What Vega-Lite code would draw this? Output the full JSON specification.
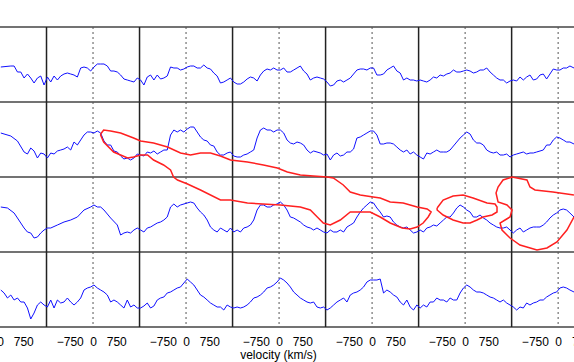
{
  "$schema": "https://vega.github.io/schema/vega-lite/v6.json",
  "width": 600,
  "height": 300,
  "autosize": {"type": "none"},
  "padding": {"left": 0, "top": 27, "right": 0, "bottom": 35},
  "background": "white",
  "config": {"view": {"stroke": null}, "axis": {"labelOverlap": false, "labelBound": false, "labelFlush": false}},
  "datasets": {
    "spec": [
      {"r":0,"x":26,"y":2.60},{"r":0,"x":348,"y":2.61},{"r":0,"x":455,"y":2.61},{"r":0,"x":563,"y":2.55},{"r":0,"x":670,"y":2.55},{"r":0,"x":777,"y":2.49},{"r":0,"x":885,"y":2.53},{"r":0,"x":992,"y":2.49},{"r":0,"x":1099,"y":2.44},{"r":0,"x":1207,"y":2.49},{"r":0,"x":1314,"y":2.51},{"r":0,"x":1421,"y":2.42},{"r":0,"x":1529,"y":2.50},{"r":0,"x":1636,"y":2.45},{"r":0,"x":1743,"y":2.51},{"r":0,"x":1851,"y":2.47},{"r":0,"x":1958,"y":2.51},{"r":0,"x":2065,"y":2.53},{"r":0,"x":2173,"y":2.54},{"r":0,"x":2280,"y":2.53},{"r":0,"x":2387,"y":2.52},{"r":0,"x":2495,"y":2.50},{"r":0,"x":2602,"y":2.59},{"r":0,"x":2709,"y":2.60},{"r":0,"x":2817,"y":2.59},{"r":0,"x":2924,"y":2.56},{"r":0,"x":3031,"y":2.60},{"r":0,"x":3139,"y":2.63},{"r":0,"x":3246,"y":2.63},{"r":0,"x":3353,"y":2.63},{"r":0,"x":3461,"y":2.61},{"r":0,"x":3568,"y":2.56},{"r":0,"x":3675,"y":2.56},{"r":0,"x":3783,"y":2.55},{"r":0,"x":3890,"y":2.52},{"r":0,"x":3997,"y":2.48},{"r":0,"x":4105,"y":2.47},{"r":0,"x":4212,"y":2.46},{"r":0,"x":4319,"y":2.45},{"r":0,"x":4427,"y":2.49},{"r":0,"x":4534,"y":2.47},{"r":0,"x":4641,"y":2.42},{"r":0,"x":4749,"y":2.50},{"r":0,"x":4856,"y":2.52},{"r":0,"x":4963,"y":2.47},{"r":0,"x":5071,"y":2.52},{"r":0,"x":5178,"y":2.48},{"r":0,"x":5285,"y":2.49},{"r":0,"x":5393,"y":2.51},{"r":0,"x":5500,"y":2.60},{"r":0,"x":5607,"y":2.59},{"r":0,"x":5715,"y":2.59},{"r":0,"x":5822,"y":2.57},{"r":0,"x":5929,"y":2.58},{"r":0,"x":6037,"y":2.60},{"r":0,"x":6144,"y":2.61},{"r":0,"x":6251,"y":2.61},{"r":0,"x":6359,"y":2.59},{"r":0,"x":6466,"y":2.59},{"r":0,"x":6573,"y":2.62},{"r":0,"x":6681,"y":2.59},{"r":0,"x":6788,"y":2.58},{"r":0,"x":6895,"y":2.54},{"r":0,"x":7003,"y":2.51},{"r":0,"x":7110,"y":2.44},{"r":0,"x":7217,"y":2.45},{"r":0,"x":7325,"y":2.47},{"r":0,"x":7432,"y":2.49},{"r":0,"x":7539,"y":2.45},{"r":0,"x":7647,"y":2.43},{"r":0,"x":7754,"y":2.43},{"r":0,"x":7861,"y":2.45},{"r":0,"x":7969,"y":2.48},{"r":0,"x":8076,"y":2.50},{"r":0,"x":8183,"y":2.49},{"r":0,"x":8291,"y":2.46},{"r":0,"x":8398,"y":2.52},{"r":0,"x":8505,"y":2.56},{"r":0,"x":8613,"y":2.58},{"r":0,"x":8720,"y":2.57},{"r":0,"x":8827,"y":2.59},{"r":0,"x":8935,"y":2.57},{"r":0,"x":9042,"y":2.57},{"r":0,"x":9149,"y":2.59},{"r":0,"x":9257,"y":2.55},{"r":0,"x":9364,"y":2.55},{"r":0,"x":9471,"y":2.57},{"r":0,"x":9579,"y":2.59},{"r":0,"x":9686,"y":2.61},{"r":0,"x":9793,"y":2.56},{"r":0,"x":9901,"y":2.53},{"r":0,"x":10008,"y":2.47},{"r":0,"x":10115,"y":2.49},{"r":0,"x":10223,"y":2.50},{"r":0,"x":10330,"y":2.49},{"r":0,"x":10437,"y":2.48},{"r":0,"x":10545,"y":2.45},{"r":0,"x":10652,"y":2.41},{"r":0,"x":10759,"y":2.42},{"r":0,"x":10867,"y":2.46},{"r":0,"x":10974,"y":2.47},{"r":0,"x":11081,"y":2.45},{"r":0,"x":11189,"y":2.47},{"r":0,"x":11296,"y":2.49},{"r":0,"x":11403,"y":2.53},{"r":0,"x":11511,"y":2.57},{"r":0,"x":11618,"y":2.58},{"r":0,"x":11725,"y":2.58},{"r":0,"x":11833,"y":2.57},{"r":0,"x":11940,"y":2.59},{"r":0,"x":12047,"y":2.59},{"r":0,"x":12155,"y":2.52},{"r":0,"x":12262,"y":2.52},{"r":0,"x":12369,"y":2.53},{"r":0,"x":12477,"y":2.57},{"r":0,"x":12584,"y":2.59},{"r":0,"x":12691,"y":2.61},{"r":0,"x":12799,"y":2.56},{"r":0,"x":12906,"y":2.54},{"r":0,"x":13013,"y":2.47},{"r":0,"x":13121,"y":2.49},{"r":0,"x":13228,"y":2.47},{"r":0,"x":13335,"y":2.47},{"r":0,"x":13443,"y":2.46},{"r":0,"x":13550,"y":2.47},{"r":0,"x":13657,"y":2.46},{"r":0,"x":13765,"y":2.45},{"r":0,"x":13872,"y":2.47},{"r":0,"x":13979,"y":2.50},{"r":0,"x":14087,"y":2.49},{"r":0,"x":14194,"y":2.52},{"r":0,"x":14301,"y":2.51},{"r":0,"x":14409,"y":2.53},{"r":0,"x":14516,"y":2.54},{"r":0,"x":14623,"y":2.57},{"r":0,"x":14731,"y":2.55},{"r":0,"x":14838,"y":2.55},{"r":0,"x":14945,"y":2.56},{"r":0,"x":15053,"y":2.57},{"r":0,"x":15160,"y":2.56},{"r":0,"x":15267,"y":2.54},{"r":0,"x":15375,"y":2.55},{"r":0,"x":15482,"y":2.57},{"r":0,"x":15589,"y":2.57},{"r":0,"x":15697,"y":2.59},{"r":0,"x":15804,"y":2.55},{"r":0,"x":15911,"y":2.52},{"r":0,"x":16019,"y":2.49},{"r":0,"x":16126,"y":2.47},{"r":0,"x":16233,"y":2.47},{"r":0,"x":16341,"y":2.44},{"r":0,"x":16448,"y":2.46},{"r":0,"x":16555,"y":2.47},{"r":0,"x":16663,"y":2.46},{"r":0,"x":16770,"y":2.50},{"r":0,"x":16877,"y":2.47},{"r":0,"x":16985,"y":2.50},{"r":0,"x":17092,"y":2.52},{"r":0,"x":17199,"y":2.47},{"r":0,"x":17307,"y":2.48},{"r":0,"x":17414,"y":2.52},{"r":0,"x":17521,"y":2.53},{"r":0,"x":17629,"y":2.48},{"r":0,"x":17736,"y":2.53},{"r":0,"x":17843,"y":2.58},{"r":0,"x":17951,"y":2.57},{"r":0,"x":18058,"y":2.57},{"r":0,"x":18165,"y":2.59},{"r":0,"x":18273,"y":2.59},{"r":0,"x":18380,"y":2.61},{"r":0,"x":18512,"y":2.59},

      {"r":1,"x":26,"y":1.94},{"r":1,"x":348,"y":1.91},{"r":1,"x":563,"y":1.86},{"r":1,"x":777,"y":1.75},{"r":1,"x":885,"y":1.73},{"r":1,"x":992,"y":1.79},{"r":1,"x":1099,"y":1.76},{"r":1,"x":1207,"y":1.69},{"r":1,"x":1314,"y":1.74},{"r":1,"x":1421,"y":1.73},{"r":1,"x":1529,"y":1.69},{"r":1,"x":1636,"y":1.74},{"r":1,"x":1743,"y":1.73},{"r":1,"x":1851,"y":1.76},{"r":1,"x":1958,"y":1.77},{"r":1,"x":2065,"y":1.78},{"r":1,"x":2173,"y":1.80},{"r":1,"x":2280,"y":1.77},{"r":1,"x":2387,"y":1.85},{"r":1,"x":2495,"y":1.82},{"r":1,"x":2602,"y":1.87},{"r":1,"x":2709,"y":1.92},{"r":1,"x":2817,"y":1.95},{"r":1,"x":2924,"y":1.95},{"r":1,"x":3031,"y":1.94},{"r":1,"x":3139,"y":1.96},{"r":1,"x":3246,"y":1.94},{"r":1,"x":3353,"y":1.86},{"r":1,"x":3461,"y":1.82},{"r":1,"x":3568,"y":1.82},{"r":1,"x":3675,"y":1.76},{"r":1,"x":3783,"y":1.75},{"r":1,"x":3890,"y":1.71},{"r":1,"x":3997,"y":1.68},{"r":1,"x":4105,"y":1.69},{"r":1,"x":4212,"y":1.67},{"r":1,"x":4319,"y":1.69},{"r":1,"x":4427,"y":1.73},{"r":1,"x":4534,"y":1.72},{"r":1,"x":4641,"y":1.71},{"r":1,"x":4749,"y":1.75},{"r":1,"x":4856,"y":1.74},{"r":1,"x":4963,"y":1.76},{"r":1,"x":5071,"y":1.73},{"r":1,"x":5178,"y":1.75},{"r":1,"x":5285,"y":1.77},{"r":1,"x":5393,"y":1.77},{"r":1,"x":5500,"y":1.92},{"r":1,"x":5607,"y":1.97},{"r":1,"x":5715,"y":1.95},{"r":1,"x":5822,"y":1.97},{"r":1,"x":5929,"y":1.95},{"r":1,"x":6037,"y":1.98},{"r":1,"x":6144,"y":2.00},{"r":1,"x":6251,"y":2.00},{"r":1,"x":6359,"y":1.95},{"r":1,"x":6466,"y":1.90},{"r":1,"x":6573,"y":1.87},{"r":1,"x":6681,"y":1.86},{"r":1,"x":6788,"y":1.82},{"r":1,"x":6895,"y":1.81},{"r":1,"x":7003,"y":1.75},{"r":1,"x":7110,"y":1.72},{"r":1,"x":7217,"y":1.72},{"r":1,"x":7325,"y":1.74},{"r":1,"x":7432,"y":1.75},{"r":1,"x":7539,"y":1.71},{"r":1,"x":7647,"y":1.70},{"r":1,"x":7754,"y":1.70},{"r":1,"x":7861,"y":1.72},{"r":1,"x":7969,"y":1.73},{"r":1,"x":8076,"y":1.75},{"r":1,"x":8183,"y":1.77},{"r":1,"x":8291,"y":1.89},{"r":1,"x":8398,"y":1.97},{"r":1,"x":8505,"y":1.99},{"r":1,"x":8613,"y":1.97},{"r":1,"x":8720,"y":1.97},{"r":1,"x":8827,"y":1.95},{"r":1,"x":8935,"y":1.97},{"r":1,"x":9042,"y":1.97},{"r":1,"x":9149,"y":1.94},{"r":1,"x":9257,"y":1.87},{"r":1,"x":9364,"y":1.84},{"r":1,"x":9471,"y":1.83},{"r":1,"x":9579,"y":1.85},{"r":1,"x":9686,"y":1.84},{"r":1,"x":9793,"y":1.82},{"r":1,"x":9901,"y":1.77},{"r":1,"x":10008,"y":1.74},{"r":1,"x":10115,"y":1.76},{"r":1,"x":10223,"y":1.75},{"r":1,"x":10330,"y":1.74},{"r":1,"x":10437,"y":1.72},{"r":1,"x":10545,"y":1.73},{"r":1,"x":10652,"y":1.67},{"r":1,"x":10759,"y":1.72},{"r":1,"x":10867,"y":1.74},{"r":1,"x":10974,"y":1.71},{"r":1,"x":11081,"y":1.72},{"r":1,"x":11189,"y":1.75},{"r":1,"x":11296,"y":1.75},{"r":1,"x":11403,"y":1.78},{"r":1,"x":11511,"y":1.89},{"r":1,"x":11618,"y":1.90},{"r":1,"x":11725,"y":1.92},{"r":1,"x":11833,"y":1.94},{"r":1,"x":11940,"y":1.96},{"r":1,"x":12047,"y":1.96},{"r":1,"x":12155,"y":1.92},{"r":1,"x":12262,"y":1.83},{"r":1,"x":12369,"y":1.83},{"r":1,"x":12477,"y":1.84},{"r":1,"x":12584,"y":1.84},{"r":1,"x":12691,"y":1.83},{"r":1,"x":12799,"y":1.80},{"r":1,"x":12906,"y":1.77},{"r":1,"x":13013,"y":1.75},{"r":1,"x":13121,"y":1.77},{"r":1,"x":13228,"y":1.73},{"r":1,"x":13335,"y":1.75},{"r":1,"x":13443,"y":1.72},{"r":1,"x":13550,"y":1.70},{"r":1,"x":13657,"y":1.68},{"r":1,"x":13765,"y":1.74},{"r":1,"x":13872,"y":1.73},{"r":1,"x":13979,"y":1.75},{"r":1,"x":14087,"y":1.77},{"r":1,"x":14194,"y":1.75},{"r":1,"x":14301,"y":1.75},{"r":1,"x":14409,"y":1.75},{"r":1,"x":14516,"y":1.77},{"r":1,"x":14623,"y":1.81},{"r":1,"x":14731,"y":1.85},{"r":1,"x":14838,"y":1.89},{"r":1,"x":14945,"y":1.92},{"r":1,"x":15053,"y":1.95},{"r":1,"x":15160,"y":1.93},{"r":1,"x":15267,"y":1.87},{"r":1,"x":15375,"y":1.84},{"r":1,"x":15482,"y":1.84},{"r":1,"x":15589,"y":1.82},{"r":1,"x":15697,"y":1.77},{"r":1,"x":15804,"y":1.75},{"r":1,"x":15911,"y":1.74},{"r":1,"x":16019,"y":1.75},{"r":1,"x":16126,"y":1.72},{"r":1,"x":16233,"y":1.72},{"r":1,"x":16341,"y":1.73},{"r":1,"x":16448,"y":1.70},{"r":1,"x":16555,"y":1.72},{"r":1,"x":16663,"y":1.73},{"r":1,"x":16770,"y":1.74},{"r":1,"x":16877,"y":1.75},{"r":1,"x":16985,"y":1.73},{"r":1,"x":17092,"y":1.74},{"r":1,"x":17199,"y":1.74},{"r":1,"x":17307,"y":1.75},{"r":1,"x":17414,"y":1.76},{"r":1,"x":17521,"y":1.77},{"r":1,"x":17629,"y":1.82},{"r":1,"x":17736,"y":1.82},{"r":1,"x":17843,"y":1.87},{"r":1,"x":17951,"y":1.90},{"r":1,"x":18058,"y":1.89},{"r":1,"x":18165,"y":1.87},{"r":1,"x":18273,"y":1.85},{"r":1,"x":18380,"y":1.85},{"r":1,"x":18512,"y":1.83},

      {"r":2,"x":26,"y":1.20},{"r":2,"x":241,"y":1.19},{"r":2,"x":455,"y":1.14},{"r":2,"x":563,"y":1.09},{"r":2,"x":670,"y":1.04},{"r":2,"x":777,"y":0.99},{"r":2,"x":885,"y":0.95},{"r":2,"x":992,"y":0.94},{"r":2,"x":1099,"y":0.89},{"r":2,"x":1207,"y":0.90},{"r":2,"x":1314,"y":0.94},{"r":2,"x":1421,"y":0.97},{"r":2,"x":1529,"y":0.99},{"r":2,"x":1636,"y":0.99},{"r":2,"x":1851,"y":1.02},{"r":2,"x":2065,"y":1.05},{"r":2,"x":2280,"y":1.07},{"r":2,"x":2495,"y":1.10},{"r":2,"x":2709,"y":1.17},{"r":2,"x":2924,"y":1.20},{"r":2,"x":3031,"y":1.22},{"r":2,"x":3139,"y":1.20},{"r":2,"x":3246,"y":1.20},{"r":2,"x":3353,"y":1.17},{"r":2,"x":3568,"y":1.09},{"r":2,"x":3783,"y":1.02},{"r":2,"x":3890,"y":0.92},{"r":2,"x":3997,"y":0.94},{"r":2,"x":4105,"y":0.95},{"r":2,"x":4212,"y":0.94},{"r":2,"x":4319,"y":0.97},{"r":2,"x":4427,"y":0.99},{"r":2,"x":4534,"y":0.97},{"r":2,"x":4641,"y":0.95},{"r":2,"x":4749,"y":0.99},{"r":2,"x":4856,"y":1.00},{"r":2,"x":4963,"y":1.02},{"r":2,"x":5071,"y":1.04},{"r":2,"x":5178,"y":1.05},{"r":2,"x":5285,"y":1.07},{"r":2,"x":5393,"y":1.10},{"r":2,"x":5500,"y":1.20},{"r":2,"x":5607,"y":1.23},{"r":2,"x":5715,"y":1.20},{"r":2,"x":5822,"y":1.22},{"r":2,"x":6037,"y":1.24},{"r":2,"x":6144,"y":1.25},{"r":2,"x":6251,"y":1.24},{"r":2,"x":6359,"y":1.19},{"r":2,"x":6466,"y":1.15},{"r":2,"x":6573,"y":1.12},{"r":2,"x":6681,"y":1.07},{"r":2,"x":6788,"y":1.00},{"r":2,"x":6895,"y":0.97},{"r":2,"x":7003,"y":0.95},{"r":2,"x":7110,"y":0.99},{"r":2,"x":7217,"y":0.97},{"r":2,"x":7325,"y":0.95},{"r":2,"x":7432,"y":0.99},{"r":2,"x":7539,"y":0.95},{"r":2,"x":7647,"y":0.97},{"r":2,"x":7754,"y":0.95},{"r":2,"x":7861,"y":0.99},{"r":2,"x":7969,"y":1.00},{"r":2,"x":8076,"y":1.02},{"r":2,"x":8183,"y":1.07},{"r":2,"x":8291,"y":1.17},{"r":2,"x":8398,"y":1.22},{"r":2,"x":8505,"y":1.22},{"r":2,"x":8613,"y":1.20},{"r":2,"x":8720,"y":1.20},{"r":2,"x":8827,"y":1.22},{"r":2,"x":8935,"y":1.23},{"r":2,"x":9042,"y":1.25},{"r":2,"x":9149,"y":1.22},{"r":2,"x":9257,"y":1.17},{"r":2,"x":9364,"y":1.10},{"r":2,"x":9471,"y":1.09},{"r":2,"x":9579,"y":1.07},{"r":2,"x":9686,"y":1.05},{"r":2,"x":9793,"y":1.02},{"r":2,"x":9901,"y":1.00},{"r":2,"x":10008,"y":0.99},{"r":2,"x":10115,"y":0.97},{"r":2,"x":10223,"y":0.99},{"r":2,"x":10330,"y":0.97},{"r":2,"x":10437,"y":0.95},{"r":2,"x":10545,"y":0.94},{"r":2,"x":10652,"y":0.97},{"r":2,"x":10759,"y":0.95},{"r":2,"x":10867,"y":0.95},{"r":2,"x":10974,"y":0.97},{"r":2,"x":11081,"y":0.95},{"r":2,"x":11189,"y":1.00},{"r":2,"x":11296,"y":1.02},{"r":2,"x":11403,"y":1.04},{"r":2,"x":11511,"y":1.10},{"r":2,"x":11618,"y":1.15},{"r":2,"x":11725,"y":1.19},{"r":2,"x":11833,"y":1.22},{"r":2,"x":11940,"y":1.25},{"r":2,"x":12047,"y":1.24},{"r":2,"x":12155,"y":1.19},{"r":2,"x":12262,"y":1.15},{"r":2,"x":12369,"y":1.10},{"r":2,"x":12477,"y":1.11},{"r":2,"x":12584,"y":1.10},{"r":2,"x":12691,"y":1.05},{"r":2,"x":12799,"y":1.02},{"r":2,"x":12906,"y":1.00},{"r":2,"x":13013,"y":0.99},{"r":2,"x":13121,"y":1.00},{"r":2,"x":13228,"y":0.97},{"r":2,"x":13335,"y":0.94},{"r":2,"x":13443,"y":0.95},{"r":2,"x":13550,"y":0.97},{"r":2,"x":13657,"y":0.95},{"r":2,"x":13765,"y":0.99},{"r":2,"x":13872,"y":1.00},{"r":2,"x":13979,"y":1.02},{"r":2,"x":14087,"y":1.01},{"r":2,"x":14194,"y":1.04},{"r":2,"x":14301,"y":1.07},{"r":2,"x":14409,"y":1.10},{"r":2,"x":14516,"y":1.10},{"r":2,"x":14623,"y":1.14},{"r":2,"x":14731,"y":1.19},{"r":2,"x":14838,"y":1.22},{"r":2,"x":14945,"y":1.20},{"r":2,"x":15053,"y":1.17},{"r":2,"x":15160,"y":1.15},{"r":2,"x":15267,"y":1.10},{"r":2,"x":15375,"y":1.10},{"r":2,"x":15482,"y":1.12},{"r":2,"x":15589,"y":1.09},{"r":2,"x":15697,"y":1.07},{"r":2,"x":15804,"y":1.04},{"r":2,"x":15911,"y":1.02},{"r":2,"x":16019,"y":1.00},{"r":2,"x":16126,"y":0.99},{"r":2,"x":16233,"y":0.99},{"r":2,"x":16341,"y":1.00},{"r":2,"x":16448,"y":0.97},{"r":2,"x":16555,"y":0.94},{"r":2,"x":16663,"y":0.97},{"r":2,"x":16770,"y":0.99},{"r":2,"x":16877,"y":0.95},{"r":2,"x":16985,"y":0.97},{"r":2,"x":17092,"y":0.99},{"r":2,"x":17199,"y":1.00},{"r":2,"x":17307,"y":1.00},{"r":2,"x":17414,"y":1.00},{"r":2,"x":17521,"y":1.02},{"r":2,"x":17629,"y":1.05},{"r":2,"x":17736,"y":1.09},{"r":2,"x":17843,"y":1.12},{"r":2,"x":17951,"y":1.14},{"r":2,"x":18058,"y":1.17},{"r":2,"x":18165,"y":1.18},{"r":2,"x":18273,"y":1.17},{"r":2,"x":18380,"y":1.14},{"r":2,"x":18512,"y":1.10},

      {"r":3,"x":26,"y":0.37},{"r":3,"x":133,"y":0.34},{"r":3,"x":241,"y":0.29},{"r":3,"x":348,"y":0.32},{"r":3,"x":455,"y":0.27},{"r":3,"x":563,"y":0.29},{"r":3,"x":670,"y":0.25},{"r":3,"x":777,"y":0.25},{"r":3,"x":885,"y":0.19},{"r":3,"x":992,"y":0.08},{"r":3,"x":1099,"y":0.14},{"r":3,"x":1207,"y":0.22},{"r":3,"x":1314,"y":0.25},{"r":3,"x":1421,"y":0.22},{"r":3,"x":1529,"y":0.20},{"r":3,"x":1636,"y":0.27},{"r":3,"x":1743,"y":0.19},{"r":3,"x":1851,"y":0.27},{"r":3,"x":1958,"y":0.24},{"r":3,"x":2065,"y":0.25},{"r":3,"x":2173,"y":0.29},{"r":3,"x":2280,"y":0.25},{"r":3,"x":2387,"y":0.22},{"r":3,"x":2495,"y":0.25},{"r":3,"x":2602,"y":0.29},{"r":3,"x":2709,"y":0.37},{"r":3,"x":2817,"y":0.39},{"r":3,"x":2924,"y":0.40},{"r":3,"x":3031,"y":0.42},{"r":3,"x":3139,"y":0.39},{"r":3,"x":3246,"y":0.37},{"r":3,"x":3353,"y":0.35},{"r":3,"x":3461,"y":0.32},{"r":3,"x":3568,"y":0.25},{"r":3,"x":3675,"y":0.27},{"r":3,"x":3783,"y":0.25},{"r":3,"x":3890,"y":0.22},{"r":3,"x":3997,"y":0.19},{"r":3,"x":4105,"y":0.27},{"r":3,"x":4212,"y":0.20},{"r":3,"x":4319,"y":0.22},{"r":3,"x":4427,"y":0.19},{"r":3,"x":4534,"y":0.19},{"r":3,"x":4641,"y":0.21},{"r":3,"x":4749,"y":0.24},{"r":3,"x":4856,"y":0.19},{"r":3,"x":4963,"y":0.21},{"r":3,"x":5071,"y":0.27},{"r":3,"x":5178,"y":0.29},{"r":3,"x":5285,"y":0.30},{"r":3,"x":5393,"y":0.34},{"r":3,"x":5500,"y":0.35},{"r":3,"x":5607,"y":0.37},{"r":3,"x":5715,"y":0.39},{"r":3,"x":5822,"y":0.40},{"r":3,"x":5929,"y":0.44},{"r":3,"x":6037,"y":0.48},{"r":3,"x":6144,"y":0.45},{"r":3,"x":6251,"y":0.42},{"r":3,"x":6359,"y":0.37},{"r":3,"x":6466,"y":0.32},{"r":3,"x":6573,"y":0.30},{"r":3,"x":6681,"y":0.27},{"r":3,"x":6788,"y":0.24},{"r":3,"x":6895,"y":0.22},{"r":3,"x":7003,"y":0.20},{"r":3,"x":7110,"y":0.20},{"r":3,"x":7217,"y":0.17},{"r":3,"x":7325,"y":0.22},{"r":3,"x":7432,"y":0.20},{"r":3,"x":7539,"y":0.19},{"r":3,"x":7647,"y":0.20},{"r":3,"x":7754,"y":0.19},{"r":3,"x":7861,"y":0.20},{"r":3,"x":7969,"y":0.22},{"r":3,"x":8076,"y":0.25},{"r":3,"x":8183,"y":0.29},{"r":3,"x":8291,"y":0.30},{"r":3,"x":8398,"y":0.32},{"r":3,"x":8505,"y":0.35},{"r":3,"x":8613,"y":0.39},{"r":3,"x":8720,"y":0.40},{"r":3,"x":8827,"y":0.42},{"r":3,"x":8935,"y":0.45},{"r":3,"x":9042,"y":0.49},{"r":3,"x":9149,"y":0.47},{"r":3,"x":9257,"y":0.44},{"r":3,"x":9364,"y":0.40},{"r":3,"x":9471,"y":0.35},{"r":3,"x":9579,"y":0.32},{"r":3,"x":9686,"y":0.29},{"r":3,"x":9793,"y":0.27},{"r":3,"x":9901,"y":0.25},{"r":3,"x":10008,"y":0.24},{"r":3,"x":10115,"y":0.25},{"r":3,"x":10223,"y":0.20},{"r":3,"x":10330,"y":0.19},{"r":3,"x":10437,"y":0.20},{"r":3,"x":10545,"y":0.17},{"r":3,"x":10652,"y":0.19},{"r":3,"x":10759,"y":0.22},{"r":3,"x":10867,"y":0.25},{"r":3,"x":10974,"y":0.27},{"r":3,"x":11081,"y":0.29},{"r":3,"x":11189,"y":0.25},{"r":3,"x":11296,"y":0.32},{"r":3,"x":11403,"y":0.34},{"r":3,"x":11511,"y":0.35},{"r":3,"x":11618,"y":0.37},{"r":3,"x":11725,"y":0.40},{"r":3,"x":11833,"y":0.45},{"r":3,"x":11940,"y":0.47},{"r":3,"x":12047,"y":0.47},{"r":3,"x":12155,"y":0.47},{"r":3,"x":12262,"y":0.48},{"r":3,"x":12369,"y":0.34},{"r":3,"x":12477,"y":0.37},{"r":3,"x":12584,"y":0.35},{"r":3,"x":12691,"y":0.32},{"r":3,"x":12799,"y":0.30},{"r":3,"x":12906,"y":0.25},{"r":3,"x":13013,"y":0.22},{"r":3,"x":13121,"y":0.27},{"r":3,"x":13228,"y":0.20},{"r":3,"x":13335,"y":0.17},{"r":3,"x":13443,"y":0.22},{"r":3,"x":13550,"y":0.19},{"r":3,"x":13657,"y":0.22},{"r":3,"x":13765,"y":0.20},{"r":3,"x":13872,"y":0.25},{"r":3,"x":13979,"y":0.25},{"r":3,"x":14087,"y":0.29},{"r":3,"x":14194,"y":0.27},{"r":3,"x":14301,"y":0.27},{"r":3,"x":14409,"y":0.25},{"r":3,"x":14516,"y":0.29},{"r":3,"x":14623,"y":0.27},{"r":3,"x":14731,"y":0.27},{"r":3,"x":14838,"y":0.34},{"r":3,"x":14945,"y":0.39},{"r":3,"x":15053,"y":0.42},{"r":3,"x":15160,"y":0.40},{"r":3,"x":15267,"y":0.37},{"r":3,"x":15375,"y":0.35},{"r":3,"x":15482,"y":0.35},{"r":3,"x":15589,"y":0.34},{"r":3,"x":15697,"y":0.32},{"r":3,"x":15804,"y":0.30},{"r":3,"x":15911,"y":0.29},{"r":3,"x":16019,"y":0.27},{"r":3,"x":16126,"y":0.25},{"r":3,"x":16233,"y":0.27},{"r":3,"x":16341,"y":0.24},{"r":3,"x":16448,"y":0.22},{"r":3,"x":16555,"y":0.20},{"r":3,"x":16663,"y":0.17},{"r":3,"x":16770,"y":0.20},{"r":3,"x":16877,"y":0.19},{"r":3,"x":16985,"y":0.24},{"r":3,"x":17092,"y":0.22},{"r":3,"x":17199,"y":0.24},{"r":3,"x":17307,"y":0.25},{"r":3,"x":17414,"y":0.27},{"r":3,"x":17521,"y":0.27},{"r":3,"x":17629,"y":0.30},{"r":3,"x":17736,"y":0.32},{"r":3,"x":17843,"y":0.34},{"r":3,"x":17951,"y":0.35},{"r":3,"x":18058,"y":0.39},{"r":3,"x":18165,"y":0.40},{"r":3,"x":18273,"y":0.39},{"r":3,"x":18380,"y":0.37},{"r":3,"x":18512,"y":0.35}
    ],
    "contour": [
      {"c":1,"o":1,"x":3246,"y":1.93},{"c":1,"o":2,"x":3343,"y":1.97},{"c":1,"o":3,"x":3568,"y":1.96},{"c":1,"o":4,"x":3890,"y":1.94},{"c":1,"o":5,"x":4309,"y":1.89},{"c":1,"o":6,"x":4534,"y":1.86},{"c":1,"o":7,"x":4953,"y":1.84},{"c":1,"o":8,"x":5403,"y":1.80},{"c":1,"o":9,"x":5822,"y":1.74},{"c":1,"o":10,"x":6144,"y":1.72},{"c":1,"o":11,"x":6466,"y":1.74},{"c":1,"o":12,"x":6788,"y":1.74},{"c":1,"o":13,"x":7110,"y":1.71},{"c":1,"o":14,"x":7432,"y":1.67},{"c":1,"o":15,"x":7979,"y":1.65},{"c":1,"o":16,"x":8495,"y":1.62},{"c":1,"o":17,"x":8945,"y":1.59},{"c":1,"o":18,"x":9267,"y":1.55},{"c":1,"o":19,"x":9686,"y":1.52},{"c":1,"o":20,"x":10105,"y":1.51},{"c":1,"o":21,"x":10555,"y":1.50},{"c":1,"o":22,"x":10749,"y":1.49},{"c":1,"o":23,"x":11071,"y":1.42},{"c":1,"o":24,"x":11296,"y":1.35},{"c":1,"o":25,"x":11618,"y":1.32},{"c":1,"o":26,"x":12037,"y":1.30},{"c":1,"o":27,"x":12262,"y":1.29},{"c":1,"o":28,"x":12584,"y":1.25},{"c":1,"o":29,"x":13003,"y":1.24},{"c":1,"o":30,"x":13453,"y":1.20},{"c":1,"o":31,"x":13775,"y":1.18},{"c":1,"o":32,"x":13904,"y":1.15},{"c":1,"o":33,"x":13808,"y":1.10},{"c":1,"o":34,"x":13647,"y":1.04},{"c":1,"o":35,"x":13453,"y":1.00},{"c":1,"o":36,"x":13228,"y":0.98},{"c":1,"o":37,"x":12970,"y":0.99},{"c":1,"o":38,"x":12584,"y":1.04},{"c":1,"o":39,"x":12262,"y":1.10},{"c":1,"o":40,"x":11940,"y":1.15},{"c":1,"o":41,"x":11715,"y":1.15},{"c":1,"o":42,"x":11296,"y":1.15},{"c":1,"o":43,"x":10974,"y":1.07},{"c":1,"o":44,"x":10652,"y":1.02},{"c":1,"o":45,"x":10427,"y":1.04},{"c":1,"o":46,"x":10233,"y":1.10},{"c":1,"o":47,"x":10008,"y":1.17},{"c":1,"o":48,"x":9686,"y":1.20},{"c":1,"o":49,"x":9042,"y":1.22},{"c":1,"o":50,"x":7979,"y":1.24},{"c":1,"o":51,"x":7432,"y":1.27},{"c":1,"o":52,"x":7110,"y":1.27},{"c":1,"o":53,"x":6466,"y":1.37},{"c":1,"o":54,"x":6047,"y":1.43},{"c":1,"o":55,"x":5725,"y":1.47},{"c":1,"o":56,"x":5597,"y":1.50},{"c":1,"o":57,"x":5500,"y":1.57},{"c":1,"o":58,"x":5275,"y":1.62},{"c":1,"o":59,"x":4953,"y":1.67},{"c":1,"o":60,"x":4759,"y":1.72},{"c":1,"o":61,"x":4534,"y":1.72},{"c":1,"o":62,"x":4309,"y":1.70},{"c":1,"o":63,"x":4115,"y":1.69},{"c":1,"o":64,"x":3665,"y":1.75},{"c":1,"o":65,"x":3343,"y":1.85},{"c":1,"o":66,"x":3246,"y":1.92},{"c":1,"o":67,"x":3246,"y":1.93},
      {"c":2,"o":1,"x":14097,"y":1.19},{"c":2,"o":2,"x":14291,"y":1.27},{"c":2,"o":3,"x":14613,"y":1.31},{"c":2,"o":4,"x":14935,"y":1.32},{"c":2,"o":5,"x":15257,"y":1.29},{"c":2,"o":6,"x":15707,"y":1.24},{"c":2,"o":7,"x":15965,"y":1.23},{"c":2,"o":8,"x":16029,"y":1.20},{"c":2,"o":9,"x":16029,"y":1.15},{"c":2,"o":10,"x":15869,"y":1.12},{"c":2,"o":11,"x":15578,"y":1.10},{"c":2,"o":12,"x":15385,"y":1.07},{"c":2,"o":13,"x":15160,"y":1.04},{"c":2,"o":14,"x":14935,"y":1.04},{"c":2,"o":15,"x":14613,"y":1.07},{"c":2,"o":16,"x":14291,"y":1.12},{"c":2,"o":17,"x":14097,"y":1.17},{"c":2,"o":18,"x":14097,"y":1.19},
      {"c":3,"o":1,"x":18509,"y":1.32},{"c":3,"o":2,"x":17832,"y":1.35},{"c":3,"o":3,"x":17253,"y":1.37},{"c":3,"o":4,"x":17092,"y":1.40},{"c":3,"o":5,"x":16995,"y":1.47},{"c":3,"o":6,"x":16513,"y":1.50},{"c":3,"o":7,"x":16223,"y":1.47},{"c":3,"o":8,"x":16062,"y":1.40},{"c":3,"o":9,"x":15997,"y":1.34},{"c":3,"o":10,"x":16062,"y":1.25},{"c":3,"o":11,"x":16351,"y":1.22},{"c":3,"o":12,"x":16513,"y":1.17},{"c":3,"o":13,"x":16448,"y":1.10},{"c":3,"o":14,"x":16287,"y":1.07},{"c":3,"o":15,"x":16126,"y":1.04},{"c":3,"o":16,"x":16190,"y":0.97},{"c":3,"o":17,"x":16448,"y":0.89},{"c":3,"o":18,"x":16770,"y":0.82},{"c":3,"o":19,"x":17317,"y":0.77},{"c":3,"o":20,"x":17639,"y":0.79},{"c":3,"o":21,"x":17961,"y":0.85},{"c":3,"o":22,"x":18283,"y":0.97},{"c":3,"o":23,"x":18509,"y":1.10}
    ]
  },
  "layer": [
    {
      "data": {"values": [{"y": 0}, {"y": 0.75}, {"y": 1.5}, {"y": 2.25}, {"y": 3.0}]},
      "mark": {"type": "rule", "color": "#444444", "strokeWidth": 1.5},
      "encoding": {
        "y": {"field": "y", "type": "quantitative", "scale": {"domain": [0, 3], "nice": false, "zero": false}, "axis": null}
      }
    },
    {
      "data": {"values": [{"x": 1500}, {"x": 4500}, {"x": 7500}, {"x": 10500}, {"x": 13500}, {"x": 16500}]},
      "mark": {"type": "rule", "color": "#222222", "strokeWidth": 1.5},
      "encoding": {
        "x": {
          "field": "x", "type": "quantitative",
          "scale": {"domain": [0, 19350], "nice": false, "zero": false},
          "axis": {
            "values": [0, 750, 2250, 3000, 3750, 5250, 6000, 6750, 8250, 9000, 9750, 11250, 12000, 12750, 14250, 15000, 15750, 17250, 18000, 18750],
            "tickCount": 100,
            "labelExpr": "datum.value % 3000 == 0 ? '0' : (datum.value % 3000 == 750 ? '750' : '−750')",
            "domain": false, "ticks": false, "grid": false,
            "labelOverlap": false, "labelFlush": false, "labelBound": false, "labelSeparation": 0,
            "labelFont": "Liberation Sans", "labelFontSize": 12, "labelColor": "#000000", "labelPadding": 9,
            "title": "velocity (km/s)", "titleFont": "Liberation Sans", "titleFontSize": 12, "titleFontWeight": "normal",
            "titleColor": "#000000", "titlePadding": 2, "titleX": 278
          }
        }
      }
    },
    {
      "data": {"values": [{"x": 3000}, {"x": 6000}, {"x": 9000}, {"x": 12000}, {"x": 15000}, {"x": 18000}]},
      "mark": {"type": "rule", "color": "#555555", "strokeWidth": 1, "strokeDash": [2, 3]},
      "encoding": {
        "x": {"field": "x", "type": "quantitative"}
      }
    },
    {
      "data": {"name": "spec"},
      "mark": {"type": "line", "color": "#1010ff", "strokeWidth": 1, "clip": true},
      "encoding": {
        "x": {"field": "x", "type": "quantitative"},
        "y": {"field": "y", "type": "quantitative", "axis": null},
        "detail": {"field": "r"}
      }
    },
    {
      "data": {"name": "contour"},
      "mark": {"type": "line", "color": "#ff2020", "strokeWidth": 1.5, "clip": true},
      "encoding": {
        "x": {"field": "x", "type": "quantitative"},
        "y": {"field": "y", "type": "quantitative", "axis": null},
        "detail": {"field": "c"},
        "order": {"field": "o", "type": "quantitative"}
      }
    }
  ]
}
